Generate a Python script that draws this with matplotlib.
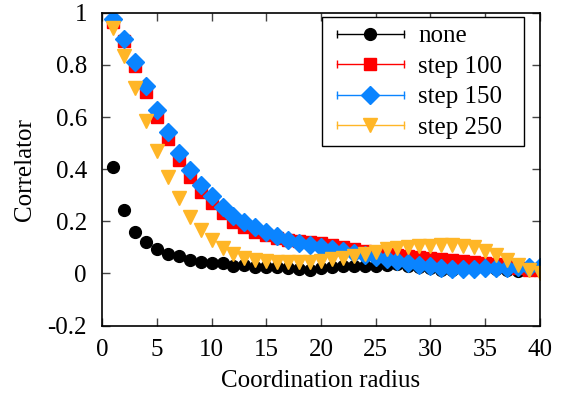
import numpy as np
import matplotlib
matplotlib.use('Agg')
import matplotlib.pyplot as plt
from matplotlib.lines import Line2D
from matplotlib.legend_handler import HandlerBase

plt.rcParams['font.family'] = 'Liberation Serif'
plt.rcParams['font.size'] = 18

# coordination radius 1..40
radius = np.arange(1, 41)

corr_none = [0.41, 0.243, 0.16, 0.122, 0.095, 0.073, 0.066, 0.052, 0.045, 0.041,
             0.039, 0.030, 0.031, 0.025, 0.024, 0.024, 0.020, 0.016, 0.012, 0.020,
             0.025, 0.028, 0.030, 0.028, 0.030, 0.032, 0.035, 0.030, 0.025, 0.020,
             0.012, 0.015, 0.018, 0.020, 0.020, 0.018, 0.015, 0.010, 0.012, 0.012]

corr_100 = [0.965, 0.893, 0.795, 0.697, 0.601, 0.515, 0.435, 0.371, 0.314, 0.269,
            0.231, 0.199, 0.177, 0.160, 0.146, 0.136, 0.130, 0.125, 0.120, 0.115,
            0.108, 0.100, 0.093, 0.085, 0.078, 0.074, 0.070, 0.066, 0.062, 0.058,
            0.055, 0.052, 0.048, 0.044, 0.040, 0.035, 0.030, 0.022, 0.015, 0.012]

corr_150 = [0.976, 0.899, 0.812, 0.719, 0.626, 0.543, 0.463, 0.397, 0.339, 0.296,
            0.255, 0.222, 0.199, 0.180, 0.160, 0.143, 0.130, 0.118, 0.108, 0.100,
            0.093, 0.085, 0.078, 0.070, 0.062, 0.055, 0.048, 0.040, 0.033, 0.027,
            0.022, 0.019, 0.018, 0.018, 0.020, 0.021, 0.022, 0.024, 0.025, 0.024]

corr_250 = [0.943, 0.835, 0.710, 0.586, 0.471, 0.371, 0.290, 0.218, 0.166, 0.127,
            0.096, 0.075, 0.061, 0.052, 0.047, 0.043, 0.043, 0.043, 0.045, 0.049,
            0.055, 0.060, 0.066, 0.075, 0.084, 0.092, 0.098, 0.103, 0.105, 0.106,
            0.108, 0.109, 0.107, 0.100, 0.088, 0.071, 0.052, 0.033, 0.014, 0.000]

labels = ['none', 'step 100', 'step 150', 'step 250']
colors = ['black', '#ff0000', '#0a84ff', '#ffb627']
markers = ['o', 's', 'D', 'v']
sizes = [8.5, 8.5, 9.5, 9.5]


class CapLineHandler(HandlerBase):
    # gnuplot style key: line with end caps and the marker in the middle
    def create_artists(self, legend, orig_handle, xdescent, ydescent,
                       width, height, fontsize, trans):
        y = height / 2 - ydescent
        x0, x1 = -xdescent + 5.0, -xdescent + width
        c = orig_handle.get_color()
        line = Line2D([x0, x1], [y, y], color=c, lw=1)
        caps = Line2D([x0, x1], [y, y], color=c, marker='|', ms=6,
                      mew=1, linestyle='none')
        mk = Line2D([(x0 + x1) / 2], [y], color=c, linestyle='none',
                    marker=orig_handle.get_marker(),
                    ms=orig_handle.get_markersize())
        for a in (line, caps, mk):
            a.set_transform(trans)
        return [line, caps, mk]


fig = plt.figure(figsize=(5.65, 4.0), dpi=100)
ax = fig.add_axes([0.181, 0.186, 0.774, 0.782])

for ys, lab, c, m, s in zip([corr_none, corr_100, corr_150, corr_250],
                            labels, colors, markers, sizes):
    ax.plot(radius, ys, linestyle='none', marker=m, ms=s, color=c,
            mec=c, label=lab)

ax.set_xlim(0, 40)
ax.set_ylim(-0.2, 1.0)
ax.set_xticks(np.arange(0, 41, 5))
ax.set_yticks(np.arange(-0.2, 1.01, 0.2))
ax.set_yticklabels(['-0.2', '0', '0.2', '0.4', '0.6', '0.8', '1'])
ax.tick_params(direction='in', top=True, right=True, length=6, width=1,
               color='#444444', labelsize=18)
ax.tick_params(axis='x', pad=10)
ax.tick_params(axis='y', pad=11)
for sp in ax.spines.values():
    sp.set_linewidth(1.2)

ax.set_xlabel('Coordination radius', fontsize=18, labelpad=6)
ax.set_ylabel('Correlator', fontsize=18, labelpad=8)

# expand mode keeps the box wide, leaving empty room right of the text
leg = ax.legend(loc='upper left', bbox_to_anchor=(0.503, 0.5, 0.462, 0.485),
                mode='expand', borderaxespad=0, fancybox=False, framealpha=1,
                edgecolor='black', fontsize=18, handlelength=2.96,
                handletextpad=0.57, labelspacing=0.32, borderpad=0.3,
                handler_map={Line2D: CapLineHandler()})
leg.get_frame().set_linewidth(1)

fig.savefig('out.png', dpi=100)
